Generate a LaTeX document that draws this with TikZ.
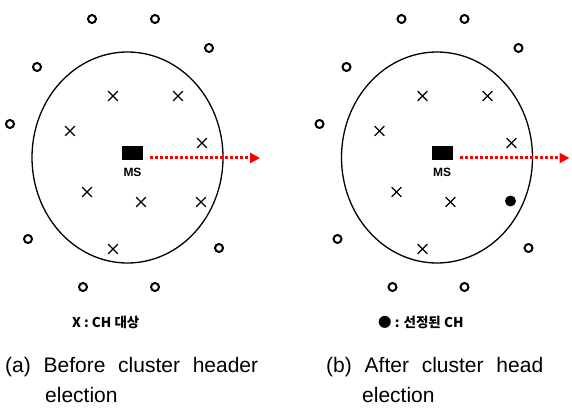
\documentclass[tikz,border=0pt]{standalone}
\usepackage{fontspec}
\setmainfont{Liberation Sans}
\newfontfamily\kofont{Noto Sans CJK KR}
\usetikzlibrary{shapes, arrows.meta, calc, positioning}

\begin{document}
\begin{tikzpicture}[x=1pt, y=-1pt, >={Triangle[length=10pt, width=10pt]}]
	\tikzstyle{sensor} = [draw, line width=2pt, circle, minimum size=8pt, inner sep=0pt]
	\tikzstyle{cand} = [draw, cross out, line width=1.2pt, minimum size=8.5pt, inner sep=0pt]
	\tikzstyle{chead} = [fill, circle, minimum size=11pt, inner sep=0pt]
	\tikzstyle{sink} = [fill, rectangle, minimum width=21pt, minimum height=14pt, inner sep=0pt]
	\tikzstyle{mstext} = [inner sep=0pt, font=\bfseries\fontsize{12}{12}\selectfont]
	\tikzstyle{route} = [->, red, line width=3pt, dash pattern=on 3pt off 2pt, shorten <=7pt]
	\tikzstyle{caption} = [anchor=base west, inner sep=0pt, font=\fontsize{21}{25}\selectfont]
	\tikzstyle{legend} = [anchor=base west, inner sep=0pt, font=\kofont\bfseries\fontsize{13.5}{16}\selectfont]

	\useasboundingbox (0,0) rectangle (572,414);

	% before election
	\begin{scope}
		\draw[line width=1.3pt] (127.5,157.5) ellipse [x radius=95.5, y radius=105.5];
		\foreach \px/\py [count=\i] in {92/19, 155/19, 209/48, 37/67, 10/124, 28/239, 219/248, 83/287, 155/287}
			\node[sensor] (o\i) at (\px,\py) {};
		\path
			node[cand] (x1) at (113,96) {}
			node[cand] (x2) at (178,96) {}
			node[cand] (x3) at (70,131) {}
			node[cand] (x4) at (202,143) {}
			node[cand] (x5) at (87,192) {}
			node[cand] (x6) at (141,202) {}
			node[cand] (x7) at (201,202) {}
			node[cand] (x8) at (113,249) {}
			node[sink] (ms) at (132.5,153) {}
			node[mstext, below=8pt of ms] (mslabel) {MS}
			coordinate (dest) at (260,158)
		;
		\draw[route] (ms.east |- dest) -- (dest);
	\end{scope}

	% after election
	\begin{scope}[xshift=309.5pt]
		\draw[line width=1.3pt] (127.5,157.5) ellipse [x radius=95.5, y radius=105.5];
		\foreach \px/\py [count=\i] in {92/19, 155/19, 209/48, 37/67, 10/124, 28/239, 219/248, 83/287, 155/287}
			\node[sensor] (o\i) at (\px,\py) {};
		\path
			node[cand] (x1) at (113,96) {}
			node[cand] (x2) at (178,96) {}
			node[cand] (x3) at (70,131) {}
			node[cand] (x4) at (202,143) {}
			node[cand] (x5) at (87,192) {}
			node[cand] (x6) at (141,202) {}
			node[chead] (ch) at (201,201) {}
			node[cand] (x8) at (113,249) {}
			node[sink] (ms) at (132.5,153) {}
			node[mstext, below=8pt of ms] (mslabel) {MS}
			coordinate (dest) at (260,158)
		;
		\draw[route] (ms.east |- dest) -- (dest);
	\end{scope}

	% legends and captions
	\node[legend] (lega) at (72,327) {X : CH 대상};
	\node[legend] (legb) at (378,327) {● : 선정된 CH};
	\node[caption] (capa1) at (5,372) {\makebox[253pt][s]{(a) Before cluster header}};
	\node[caption] (capa2) at (45,402) {election};
	\node[caption] (capb1) at (326,372) {\makebox[217pt][s]{(b) After cluster head}};
	\node[caption] (capb2) at (362,402) {election};
\end{tikzpicture}
\end{document}
